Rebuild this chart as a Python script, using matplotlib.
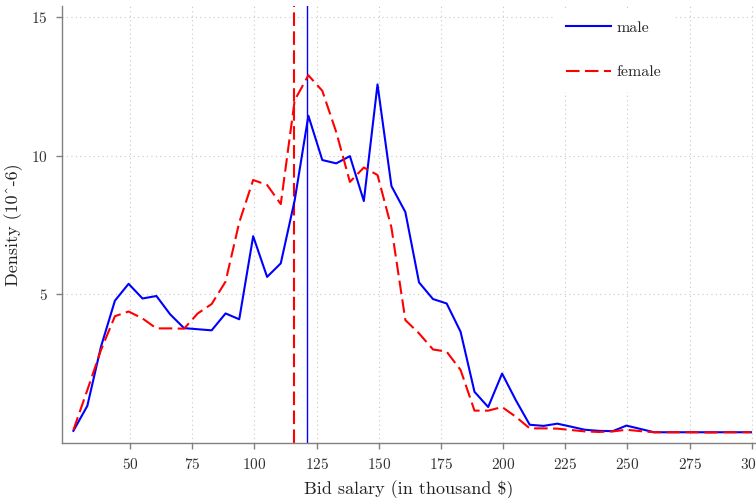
import matplotlib
matplotlib.use("Agg")
import matplotlib.pyplot as plt

# ---- data ----
salary = [27.2, 32.8, 38.3, 43.9, 49.4, 55.0, 60.6, 66.1, 71.7, 77.2,
          82.8, 88.4, 93.9, 99.5, 105.1, 110.6, 116.2, 121.7, 127.3, 132.9,
          138.4, 144.0, 149.5, 155.1, 160.7, 166.2, 171.8, 177.3, 182.9, 188.5,
          194.0, 199.6, 205.1, 210.7, 216.3, 221.8, 227.4, 232.9, 238.5, 244.1,
          249.6, 255.2, 260.7, 266.3, 271.9, 277.4, 283.0, 288.5, 294.1, 299.7]

male = [0.06, 0.96, 3.10, 4.76, 5.37, 4.84, 4.93, 4.27, 3.77, 3.73,
        3.69, 4.30, 4.09, 7.09, 5.62, 6.11, 8.39, 11.44, 9.84, 9.72,
        9.98, 8.36, 12.57, 8.90, 7.96, 5.42, 4.82, 4.66, 3.64, 1.47,
        0.92, 2.13, 1.17, 0.28, 0.24, 0.32, 0.21, 0.10, 0.06, 0.05,
        0.25, 0.13, 0.01, 0.01, 0.01, 0.01, 0.01, 0.01, 0.01, 0.01]

female = [0.09, 1.53, 2.98, 4.20, 4.37, 4.12, 3.76, 3.76, 3.75, 4.30,
          4.64, 5.45, 7.59, 9.12, 8.94, 8.25, 12.00, 12.90, 12.34, 10.85,
          9.05, 9.57, 9.30, 7.40, 4.06, 3.58, 3.00, 2.92, 2.26, 0.79,
          0.79, 0.92, 0.57, 0.15, 0.15, 0.14, 0.09, 0.04, 0.02, 0.04,
          0.10, 0.05, 0.01, 0.01, 0.01, 0.01, 0.00, 0.01, 0.01, 0.01]

mean_male = 121.3
mean_female = 115.8

x_ticks = [50, 75, 100, 125, 150, 175, 200, 225, 250, 275, 300]
y_ticks = [5, 10, 15]

# ---- style ----
plt.rcParams['font.family'] = ['cmr10', 'DejaVu Serif']
plt.rcParams['axes.formatter.use_mathtext'] = True
plt.rcParams['axes.unicode_minus'] = False

fig = plt.figure(figsize=(7.56, 4.98), dpi=100)
ax = fig.add_axes([0.0816, 0.1098, 0.9184, 0.878])

ax.plot(salary, male, color='blue', lw=1.5, label='male', zorder=3)
ax.plot(salary, female, color='red', lw=1.5, linestyle=(0, (6.5, 2.6)),
        label='female', zorder=3)
ax.axvline(mean_female, color='red', lw=1.5, linestyle=(0, (6.5, 2.6)), zorder=2)
ax.axvline(mean_male, color='blue', lw=1.0, zorder=2)

ax.set_xlim(22.5, 301.7)
ax.set_ylim(-0.39, 15.4)
ax.set_xticks(x_ticks)
ax.set_yticks(y_ticks)

ax.grid(True, color='#c8c8c8', linestyle=(0, (1, 3)), linewidth=0.8, zorder=0)
ax.set_axisbelow(True)

for s in ['top', 'right']:
    ax.spines[s].set_visible(False)
for s in ['left', 'bottom']:
    ax.spines[s].set_color('#808080')
    ax.spines[s].set_linewidth(1.0)

ax.tick_params(axis='both', direction='out', length=4, width=1.0,
               color='#808080', labelcolor='#333333', labelsize=11, pad=6)

ax.set_xlabel('Bid salary (in thousand $)', fontsize=13, color='#222222', labelpad=6)
ax.set_ylabel('Density (10^-6)', fontsize=13, color='#222222', labelpad=6)

leg = ax.legend(loc='upper left', bbox_to_anchor=(0.708, 0.996),
                frameon=True, facecolor='white', edgecolor='none', framealpha=1.0,
                fontsize=11.5, handlelength=2.8, handletextpad=0.35,
                labelspacing=1.9, borderpad=0.8, borderaxespad=0.0)
leg.get_frame().set_boxstyle('square', pad=0)
for t in leg.get_texts():
    t.set_color('#222222')

fig.savefig('out.png', dpi=100)
